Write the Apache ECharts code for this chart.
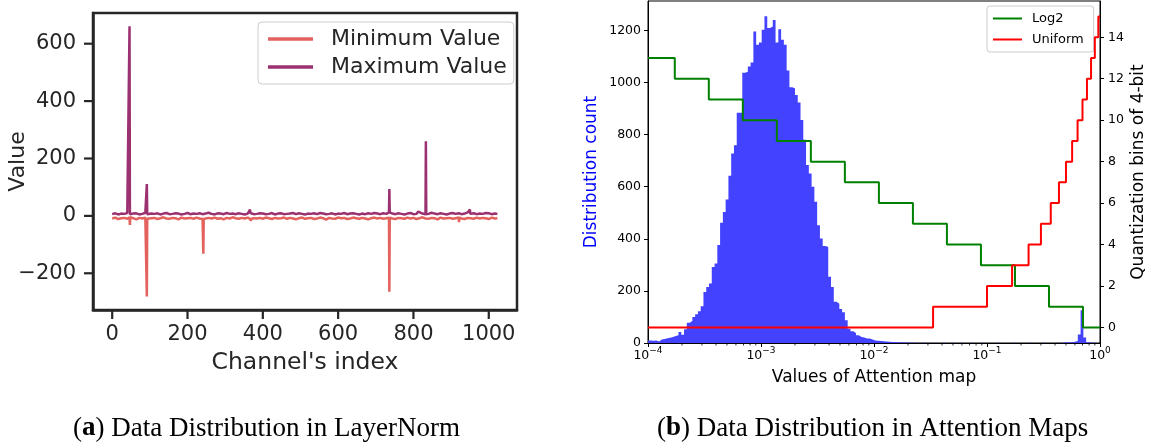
<!DOCTYPE html>
<html><head><meta charset="utf-8">
<script src="https://cdn.jsdelivr.net/npm/echarts@6/dist/echarts.min.js"></script>
<style>html,body{margin:0;padding:0;background:#fff}#c{width:1154px;height:443px}</style>
</head><body><div id="c"></div>
<script>
// ---------- Panel (a): LayerNorm min / max per channel ----------
const channelStep = 8;
const lastChannel = 1023;
const maxBase = [
  6,9,5,8,7,10,6,8,9,5,7,11,6,8,7,9,
  5,8,10,6,7,9,8,5,7,10,6,8,7,9,6,8,
  11,7,5,9,8,6,10,7,8,6,9,7,5,8,10,6,
  7,9,8,6,7,10,5,8,9,6,7,8,10,6,9,7,
  5,8,7,9,6,10,8,6,7,9,5,8,7,10,6,8,
  9,7,5,8,6,9,7,10,8,6,9,7,12,8,6,9,
  7,5,8,10,6,7,9,8,6,7,11,8,6,9,7,5,
  8,10,7,9,6,8,12,7,9,6,8,7,10,9,6,8,
  7];
const minBase = [
  -9,-6,-11,-8,-7,-10,-5,-8,-12,-7,-9,-6,-10,-8,-7,-11,
  -8,-5,-9,-10,-7,-8,-12,-6,-9,-8,-7,-10,-6,-9,-11,-8,
  -7,-9,-6,-10,-8,-12,-7,-9,-5,-8,-10,-7,-9,-6,-11,-8,
  -9,-7,-10,-6,-8,-11,-7,-9,-8,-6,-10,-7,-9,-12,-8,-6,
  -10,-8,-7,-11,-9,-6,-8,-13,-7,-9,-10,-6,-8,-7,-11,-9,
  -6,-8,-10,-7,-9,-12,-8,-6,-9,-7,-10,-8,-6,-9,-11,-7,
  -8,-10,-6,-9,-7,-11,-8,-5,-9,-10,-7,-8,-12,-6,-9,-8,
  -7,-10,-8,-6,-9,-11,-7,-8,-10,-6,-9,-7,-8,-11,-6,-9,
  -8];
const maxSpikes = [[46,661],[92,111],[366,22],[736,94],[813,15],[833,260],[950,22]];
const minSpikes = [[47,-32],[92,-281],[242,-132],[368,-18],[736,-264],[921,-22]];
const xTicksA = [0,200,400,600,800,1000];
const yTicksA = [-200,0,200,400,600];
const xRangeA = [-51, 1075];
const yRangeA = [-328, 707];

// ---------- Panel (b): attention-map histogram + quantization bins ----------
const histLogMin = -4;
const histLogStep = 4/163;
const histCounts = [
  10,9,10,6,13,15,18,20,23,27,
  30,42,32,53,78,84,100,110,122,141,
  196,215,228,292,305,376,462,503,551,642,
  728,759,884,884,1038,1041,1062,1077,1196,1145,
  1154,1203,1254,1209,1215,1240,1154,1205,1164,1145,
  1046,982,978,952,923,856,780,683,651,600,
  542,452,401,372,369,254,215,158,151,131,
  118,87,55,45,38,30,23,21,17,17,
  13,10,9,8,7,6,5,4,4,3,
  3,2,2,2,1,1,1,0,1,1,
  0,1,0,1,0,0,1,0,0,1,
  0,0,1,0,0,0,1,0,0,0,
  1,0,0,0,0,1,0,0,0,0,
  0,1,0,0,0,0,0,1,0,0,
  0,0,1,0,0,0,0,1,0,2,
  2,3,3,5,8,33,126,21,3,1,
  1,0,0];
const log2Edges = [1e-4,1.726e-4,3.453e-4,6.905e-4,1.381e-3,2.762e-3,5.524e-3,1.105e-2,2.210e-2,4.419e-2,8.839e-2,0.1768,0.3536,0.7071];
const log2Levels = [13,12,11,10,9,8,7,6,5,4,3,2,1,0];
const uniEdges = [1e-4,0.03333,0.1,0.1667,0.2333,0.3,0.3667,0.4333,0.5,0.5667,0.6333,0.7,0.7667,0.8333,0.9,0.9667];
const uniLevels = [0,1,2,3,4,5,6,7,8,9,10,11,12,13,14,15];
const qTicks = [0,2,4,6,8,10,12,14];
const minorMantissas = [2,3,4,5,6,7,8,9];
const minorDecades = [1e-4,1e-3,1e-2,1e-1];

// ---------- build ----------
function withSpikes(base, spikes) {
  let pts = base.map((v, i) => [Math.min(i * channelStep, lastChannel), v]);
  spikes.forEach(([ch, peak]) => {
    const near = base[Math.round(ch / channelStep)];
    pts = pts.filter(p => Math.abs(p[0] - ch) > 1);
    pts.push([ch - 1, near], [ch, peak], [ch + 1, near]);
  });
  pts.sort((a, b) => a[0] - b[0]);
  return pts;
}
function stepData(edges, levels, end) {
  const d = edges.map((e, i) => [e, levels[i]]);
  d.push([end, levels[levels.length - 1]]);
  return d;
}
const histData = histCounts.map((c, k) => [Math.pow(10, histLogMin + k * histLogStep), c]);
histData.push([1, histCounts[histCounts.length - 1]]);
const minorTicks = [];
minorDecades.forEach(d => minorMantissas.forEach(m => minorTicks.push([m * d, 0])));
// tick marks of panel (a): [x, y, direction] (0 = below x axis, 1 = left of y axis)
const tickMarksA = xTicksA.map(v => [v, yRangeA[0], 0]).concat(yTicksA.map(v => [xRangeA[0], v, 1]));

const DARK = '#262626';
const FONT = 'DejaVu Sans';
const minus = v => (v < 0 ? '\u2212' + Math.abs(v) : String(v));
const darkLine = {show: true, onZero: false, lineStyle: {color: DARK, width: 2.5}};

const chart = echarts.init(document.getElementById('c'), null, {renderer: 'canvas'});
chart.setOption({
  animation: false,
  backgroundColor: '#fff',
  title: [
    {text: '({b|a}) Data Distribution in LayerNorm', left: 68, top: 410,
     textStyle: {fontFamily: 'Liberation Serif', fontSize: 27, fontWeight: 'normal', color: '#000',
       rich: {b: {fontFamily: 'Liberation Serif', fontSize: 27, fontWeight: 'bold', color: '#000'}}}},
    {text: '({b|b}) Data Distribution in Attention Maps', left: 652, top: 410,
     textStyle: {fontFamily: 'Liberation Serif', fontSize: 27, fontWeight: 'normal', color: '#000',
       rich: {b: {fontFamily: 'Liberation Serif', fontSize: 27, fontWeight: 'bold', color: '#000'}}}}
  ],
  legend: [
    {data: ['Minimum Value', 'Maximum Value'], left: 258, top: 22, orient: 'vertical',
     icon: 'rect', itemWidth: 45, itemHeight: 3.5, itemGap: 6, padding: [6, 7, 6, 10],
     borderColor: '#cccccc', borderWidth: 1, borderRadius: 4, backgroundColor: '#fff',
     textStyle: {fontSize: 22, color: DARK, fontFamily: FONT, padding: [0, 0, 0, 13]}},
    {data: ['Log2', 'Uniform'], left: 987, top: 6, orient: 'vertical',
     icon: 'rect', itemWidth: 29, itemHeight: 2, itemGap: 8, padding: [6, 10, 6, 6],
     borderColor: '#cccccc', borderWidth: 1, borderRadius: 3, backgroundColor: '#fff',
     textStyle: {fontSize: 13, color: '#000', fontFamily: FONT, padding: [0, 0, 0, 5]}}
  ],
  grid: [
    {left: 93, top: 13, width: 424, height: 297, show: true, borderColor: DARK, borderWidth: 2.5},
    {left: 648, top: 1, width: 452, height: 342, show: true, borderColor: '#000', borderWidth: 1}
  ],
  xAxis: [
    {gridIndex: 0, type: 'value', min: xRangeA[0], max: xRangeA[1],
     axisLine: darkLine, splitLine: {show: false}, axisTick: {show: false},
     axisLabel: {customValues: xTicksA, formatter: minus, fontSize: 21, color: DARK, fontFamily: FONT, margin: 14},
     name: "Channel's index", nameLocation: 'middle', nameGap: 41, nameMoveOverlap: false,
     nameTextStyle: {fontSize: 23.5, color: DARK, fontFamily: FONT}},
    {gridIndex: 1, type: 'log', logBase: 10, min: 1e-4, max: 1,
     axisLine: {show: true, onZero: false, lineStyle: {color: '#000', width: 1}}, splitLine: {show: false},
     axisTick: {show: true, length: 4, lineStyle: {color: '#000', width: 1}},
     axisLabel: {margin: 3, color: '#000',
       formatter: v => '{b|10}{s|' + minus(Math.round(Math.log10(v))) + '}',
       rich: {b: {fontSize: 12.5, fontFamily: FONT, color: '#000', lineHeight: 16, verticalAlign: 'bottom'},
              s: {fontSize: 9, fontFamily: FONT, color: '#000', lineHeight: 8, verticalAlign: 'top'}}},
     name: 'Values of Attention map', nameLocation: 'middle', nameGap: 26,
     nameTextStyle: {fontSize: 17, color: '#000', fontFamily: FONT}}
  ],
  yAxis: [
    {gridIndex: 0, type: 'value', min: yRangeA[0], max: yRangeA[1],
     axisLine: darkLine, splitLine: {show: false}, axisTick: {show: false},
     axisLabel: {customValues: yTicksA, formatter: minus, fontSize: 21, color: DARK, fontFamily: FONT, margin: 17},
     name: 'Value', nameLocation: 'middle', nameGap: 64, nameRotate: 90, nameMoveOverlap: false,
     nameTextStyle: {fontSize: 22, color: DARK, fontFamily: FONT}},
    {gridIndex: 1, type: 'value', min: 0, max: 1313, interval: 200,
     axisLine: {show: true, onZero: false, lineStyle: {color: '#000', width: 1}}, splitLine: {show: false},
     axisTick: {show: true, length: 4, lineStyle: {color: '#000'}},
     axisLabel: {showMaxLabel: false, formatter: v => String(v), fontSize: 12.5, color: '#000', fontFamily: FONT, margin: 7},
     name: 'Distribution count', nameLocation: 'middle', nameGap: 48, nameRotate: 90,
     nameTextStyle: {fontSize: 17, color: '#0000ff', fontFamily: FONT}},
    {gridIndex: 1, type: 'value', position: 'right', min: -0.75, max: 15.75,
     axisLine: {show: true, onZero: false, lineStyle: {color: '#000', width: 1}}, splitLine: {show: false},
     axisTick: {show: true, customValues: qTicks, length: 4, lineStyle: {color: '#000'}},
     axisLabel: {customValues: qTicks, formatter: v => String(v), fontSize: 12.5, color: '#000', fontFamily: FONT, margin: 8},
     name: 'Quantization bins of 4-bit', nameLocation: 'middle', nameGap: 30, nameRotate: 90,
     nameTextStyle: {fontSize: 17, color: '#000', fontFamily: FONT}}
  ],
  series: [
    {name: 'Minimum Value', type: 'line', xAxisIndex: 0, yAxisIndex: 0, data: withSpikes(minBase, minSpikes),
     symbol: 'none', color: '#e3625d', lineStyle: {width: 2.5, color: '#e3625d'}, z: 2},
    {name: 'Maximum Value', type: 'line', xAxisIndex: 0, yAxisIndex: 0, data: withSpikes(maxBase, maxSpikes),
     symbol: 'none', color: '#9b3171', lineStyle: {width: 2.5, color: '#9b3171'}, z: 3},
    {name: 'ticksA', type: 'custom', xAxisIndex: 0, yAxisIndex: 0, data: tickMarksA, silent: true, clip: false,
     encode: {x: 0, y: 1}, z: 5,
     renderItem: (params, api) => {
       const p = api.coord([api.value(0), api.value(1)]);
       const horiz = api.value(2) === 1;
       return {type: 'line',
               shape: horiz ? {x1: p[0] - 9, y1: p[1], x2: p[0], y2: p[1]} : {x1: p[0], y1: p[1], x2: p[0], y2: p[1] + 9},
               style: {stroke: DARK, lineWidth: 2.2}};
     }},
    {name: 'hist', type: 'line', xAxisIndex: 1, yAxisIndex: 1, data: histData, step: 'end',
     symbol: 'none', lineStyle: {width: 0}, areaStyle: {color: '#4242ff', opacity: 1}, z: 1, silent: true},
    {name: 'Log2', type: 'line', xAxisIndex: 1, yAxisIndex: 2, data: stepData(log2Edges, log2Levels, 1),
     step: 'end', symbol: 'none', color: '#008000', lineStyle: {width: 2, color: '#008000'}, z: 3},
    {name: 'Uniform', type: 'line', xAxisIndex: 1, yAxisIndex: 2, data: stepData(uniEdges, uniLevels, 1),
     step: 'end', symbol: 'none', color: '#ff0000', lineStyle: {width: 2, color: '#ff0000'}, z: 4},
    {name: 'minorTicks', type: 'custom', xAxisIndex: 1, yAxisIndex: 1, data: minorTicks, silent: true, clip: false,
     encode: {x: 0, y: 1},
     renderItem: (params, api) => {
       const p = api.coord([api.value(0), 0]);
       return {type: 'line', shape: {x1: p[0], y1: p[1], x2: p[0], y2: p[1] + 2.5},
               style: {stroke: '#000', lineWidth: 0.8}};
     }}
  ]
});
</script></body></html>
